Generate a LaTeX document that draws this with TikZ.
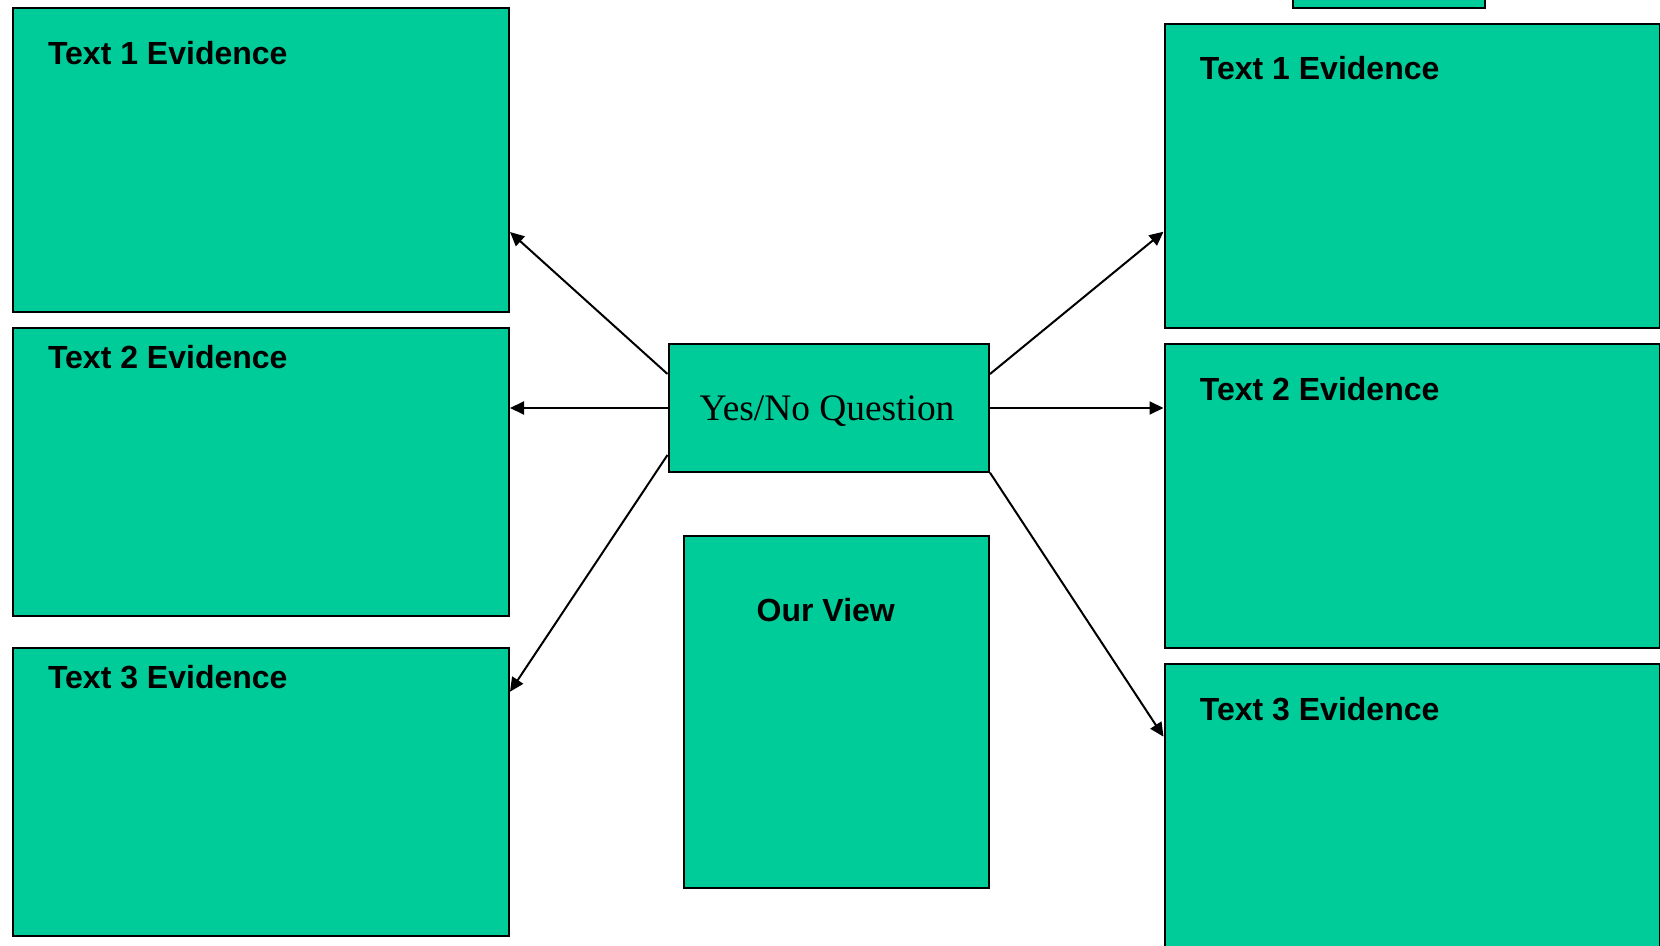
\documentclass[tikz,border=0pt]{standalone}
\usepackage{fontspec}
\setmainfont{Liberation Serif}
\newfontfamily\evfont{Liberation Sans}
\usetikzlibrary{arrows.meta}
\definecolor{evgreen}{RGB}{0,204,153}

\tikzset{
  evbox/.style={draw=black,fill=evgreen,line width=1pt,inner sep=0pt,anchor=north west},
  evtext/.style={anchor=base west,inner sep=0pt,font=\evfont\bfseries\fontsize{16}{18}\selectfont},
  evarrow/.style={line width=1pt,-{Triangle[length=7pt,width=6.5pt]}}
}

\begin{document}
\begin{tikzpicture}[x=0.5pt,y=-0.5pt]
  \clip (0,0) rectangle (1660,946);
  % left column
  \node[evbox,minimum width=248.2pt,minimum height=152pt] (lt1) at (11.6,7) {};
  \node[evbox,minimum width=248.2pt,minimum height=144pt] (lt2) at (11.6,327) {};
  \node[evbox,minimum width=248.2pt,minimum height=144pt] (lt3) at (11.6,647.3) {};
  % right column
  \node[evbox,minimum width=247.75pt,minimum height=152.2pt] (rt1) at (1163.5,22.7) {};
  \node[evbox,minimum width=247.75pt,minimum height=152pt] (rt2) at (1163.5,343) {};
  \node[evbox,minimum width=247.75pt,minimum height=160pt] (rt3) at (1163.5,662.7) {};
  \node[evbox,minimum width=96.2pt,minimum height=40pt] (top) at (1291.7,-73.3) {};
  % middle
  \node[evbox,minimum width=160.25pt,minimum height=63.7pt] (quest) at (667.5,343.3) {};
  \node[evbox,minimum width=152.5pt,minimum height=176pt] (view) at (683.3,535) {};

  \node[anchor=base,inner sep=0pt,font=\fontsize{18.7}{20}\selectfont] (questt) at (827,420.7) {Yes/No Question};
  \node[evtext] (viewt) at (756.3,621.7) {Our View};

  \node[evtext] (lt1t) at ([shift={(18pt,-28.65pt)}]lt1.north west) {Text 1 Evidence};
  \node[evtext] (lt2t) at ([shift={(18pt,-20.8pt)}]lt2.north west) {Text 2 Evidence};
  \node[evtext] (lt3t) at ([shift={(18pt,-20.8pt)}]lt3.north west) {Text 3 Evidence};
  \node[evtext] (rt1t) at ([shift={(18pt,-28.65pt)}]rt1.north west) {Text 1 Evidence};
  \node[evtext] (rt2t) at ([shift={(18pt,-28.65pt)}]rt2.north west) {Text 2 Evidence};
  \node[evtext] (rt3t) at ([shift={(18pt,-28.65pt)}]rt3.north west) {Text 3 Evidence};

  % arrows
  \draw[evarrow] ([yshift=-15.35pt]quest.north west) -- ([yshift=-112.5pt]lt1.north east);
  \draw[evarrow] (quest.west) -- (quest.west -| lt2.east);
  \draw[evarrow] ([yshift=-55.85pt]quest.north west) -- ([yshift=-22.2pt]lt3.north east);
  \draw[evarrow] ([yshift=-15.35pt]quest.north east) -- ([yshift=-104.5pt]rt1.north west);
  \draw[evarrow] (quest.east) -- (quest.east -| rt2.west);
  \draw[evarrow] (quest.south east) -- ([yshift=-37pt]rt3.north west);
\end{tikzpicture}
\end{document}
